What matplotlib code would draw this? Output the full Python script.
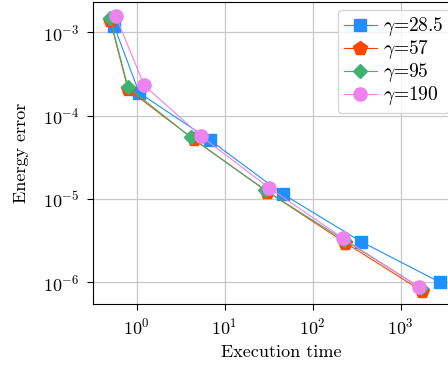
import matplotlib
matplotlib.use('Agg')
import matplotlib.pyplot as plt
import matplotlib.ticker as mticker

plt.rcParams['font.family'] = 'serif'
plt.rcParams['font.serif'] = ['cmr10', 'DejaVu Serif']
plt.rcParams['mathtext.fontset'] = 'cm'
plt.rcParams['axes.formatter.use_mathtext'] = True
plt.rcParams['axes.unicode_minus'] = False

# execution time / energy error per gamma
t_28 = [0.556, 1.07, 6.8, 45.6, 357, 2800]
e_28 = [1.19e-3, 1.88e-4, 5.1e-5, 1.15e-5, 3.07e-6, 1.0e-6]
t_57 = [0.50, 0.80, 4.48, 30.5, 233, 1730]
e_57 = [1.41e-3, 2.07e-4, 5.19e-5, 1.23e-5, 3.0e-6, 7.9e-7]
t_95 = [0.50, 0.80, 4.14, 28.7, 230, 1720]
e_95 = [1.47e-3, 2.19e-4, 5.5e-5, 1.28e-5, 3.2e-6, 8.5e-7]
t_190 = [0.58, 1.22, 5.38, 32.1, 223, 1625]
e_190 = [1.57e-3, 2.31e-4, 5.69e-5, 1.36e-5, 3.37e-6, 8.7e-7]
labels = ['28.5', '57', '95', '190']

fig = plt.figure(figsize=(4.48, 3.7), dpi=100)
ax = fig.add_axes([93/448, 66/370, (470-93)/448, (304-2)/370])

ax.plot(t_28, e_28, color='#1E90FF', marker='s', markersize=9, linewidth=0.8, label=r'$\gamma$=' + labels[0])
ax.plot(t_57, e_57, color='#FF4500', marker='p', markersize=10, linewidth=0.8, label=r'$\gamma$=' + labels[1])
ax.plot(t_95, e_95, color='#3CB371', marker='D', markersize=7, linewidth=0.8, label=r'$\gamma$=' + labels[2])
ax.plot(t_190, e_190, color='#EE82EE', marker='o', markersize=9.5, linewidth=0.8, label=r'$\gamma$=' + labels[3])

ax.set_xscale('log')
ax.set_yscale('log')
ax.set_xlim(0.32, 10**((470-136.7)/88))
ax.set_ylim(10**-6.26, 10**-2.636)
ax.xaxis.set_minor_locator(mticker.NullLocator())
ax.yaxis.set_minor_locator(mticker.NullLocator())
ax.grid(True, color='#c8c8c8', linewidth=0.9)
ax.set_axisbelow(True)
ax.tick_params(labelsize=13, length=4.5, pad=5)

ax.set_xlabel('Execution time', fontsize=13, labelpad=5)
ax.set_ylabel('Energy error', fontsize=13, labelpad=10)
ax.legend(loc='upper left', bbox_to_anchor=(338/377 - 93/377, 0.975), fontsize=14,
          handlelength=1.7, handletextpad=0.3, labelspacing=0.0, borderaxespad=0,
          borderpad=0.3)

fig.savefig('out.png', dpi=100)
